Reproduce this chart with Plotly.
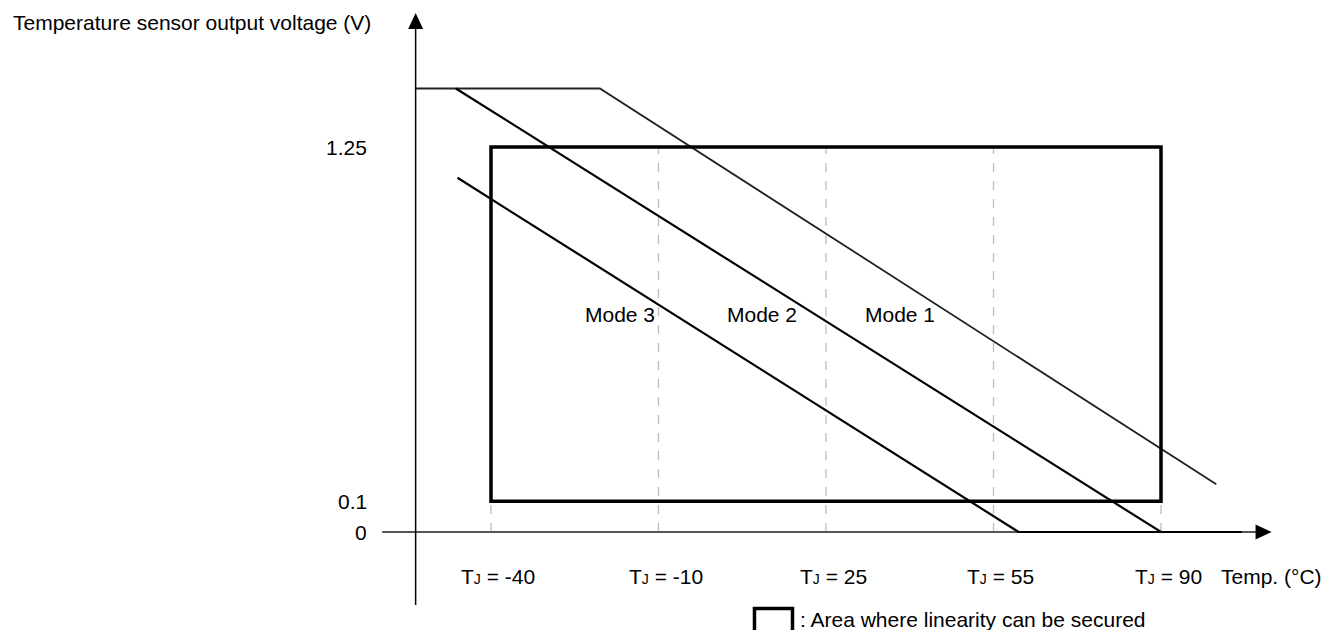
"""Temperature sensor output voltage vs junction temperature (schematic)."""
import plotly.graph_objects as go

# ---- data (x in tick-index units: 0 = first T_J tick, 1 = next, ...) ----
tj_labels = ["-40", "-10", "25", "55", "90"]
tj_pos = [0, 1, 2, 3, 4]

y_tick_labels = ["1.25", "0.1", "0"]
y_tick_vals = [1.25, 0.1, 0.0]

mode_names = ["Mode 1", "Mode 2", "Mode 3"]
mode1_x = [-0.45, 0.65, 4.33]
mode1_y = [1.44, 1.44, 0.155]
mode2_x = [-0.21, 4.0, 4.48]
mode2_y = [1.44, 0.0, 0.0]
mode3_x = [-0.20, 3.15, 4.48]
mode3_y = [1.15, 0.0, 0.0]
mode_label_x = [2.44, 1.62, 0.77]
mode_label_y = [0.705, 0.705, 0.705]

# linearity area
lin_x = [0, 4]
lin_y = [0.1, 1.25]

# axes extents
yaxis_u = -0.45
yaxis_v = [-0.237, 1.685]
xaxis_u = [-0.65, 4.66]

W, H = 1323, 630
UX, UY = 167.5, 308.0      # px per x unit / per volt
ORIGIN = (491, 532)        # px of (x=0, v=0)
X_RANGE = [-ORIGIN[0] / UX, (W - ORIGIN[0]) / UX]
Y_RANGE = [-(H - ORIGIN[1]) / UY, ORIGIN[1] / UY]

FONT = "Liberation Sans, Arial, sans-serif"
FS = 21

fig = go.Figure()

# dashed verticals at the T_J ticks
for p in tj_pos:
    fig.add_shape(type="line", x0=p, x1=p, y0=0, y1=lin_y[1],
                  line=dict(color="#bdbdbd", width=1.3, dash="dash"), layer="below")

# x axis and y axis lines
fig.add_trace(go.Scatter(x=[xaxis_u[0], xaxis_u[1] - 10 / UX], y=[0, 0], mode="lines",
                         line=dict(color="#555555", width=2), hoverinfo="skip"))
fig.add_trace(go.Scatter(x=[yaxis_u, yaxis_u], y=[yaxis_v[0], yaxis_v[1] - 10 / UY], mode="lines",
                         line=dict(color="black", width=1.5), hoverinfo="skip"))

# arrow heads (filled triangles, 16px long, 15px wide)
hl, hw = 16, 7.5
tip = xaxis_u[1]
fig.add_trace(go.Scatter(x=[tip, tip - hl / UX, tip - hl / UX, tip],
                         y=[0, hw / UY, -hw / UY, 0], mode="lines", fill="toself",
                         fillcolor="black", line=dict(color="black", width=0), hoverinfo="skip"))
tip = yaxis_v[1]
fig.add_trace(go.Scatter(x=[yaxis_u, yaxis_u - hw / UX, yaxis_u + hw / UX, yaxis_u],
                         y=[tip, tip - hl / UY, tip - hl / UY, tip], mode="lines", fill="toself",
                         fillcolor="black", line=dict(color="black", width=0), hoverinfo="skip"))

# linearity rectangle
fig.add_shape(type="rect", x0=lin_x[0], x1=lin_x[1], y0=lin_y[0], y1=lin_y[1],
              line=dict(color="black", width=3.5))

# mode lines
fig.add_trace(go.Scatter(x=mode1_x, y=mode1_y, mode="lines",
                         line=dict(color="#222222", width=1.8), name=mode_names[0]))
fig.add_trace(go.Scatter(x=mode2_x, y=mode2_y, mode="lines",
                         line=dict(color="black", width=2.2), name=mode_names[1]))
fig.add_trace(go.Scatter(x=mode3_x, y=mode3_y, mode="lines",
                         line=dict(color="black", width=2.2), name=mode_names[2]))

# mode labels
for name, x, y in zip(mode_names, mode_label_x, mode_label_y):
    fig.add_annotation(x=x, y=y, text=name, showarrow=False,
                       font=dict(size=FS, color="black", family=FONT))

# x tick labels
for lab, p in zip(tj_labels, tj_pos):
    fig.add_annotation(x=p, y=-0.146, text=f"T<span style='font-size:14px'>J</span> = {lab}",
                       showarrow=False, xshift=7,
                       font=dict(size=FS, color="black", family=FONT))
fig.add_annotation(x=4.345, y=-0.146, text="Temp. (°C)", showarrow=False, xanchor="left",
                   font=dict(size=FS, color="black", family=FONT))

# y tick labels
for lab, v in zip(y_tick_labels, y_tick_vals):
    fig.add_annotation(x=-0.73, y=v, text=lab, showarrow=False, xanchor="right",
                       font=dict(size=FS, color="black", family=FONT))

# y title
fig.add_annotation(xref="paper", yref="paper", x=11 / W, y=1 - 23 / H,
                   text="Temperature sensor output voltage (V)", showarrow=False,
                   xanchor="left", yanchor="middle",
                   font=dict(size=FS, color="black", family=FONT))

# legend box + text
fig.add_shape(type="rect", x0=1.573, x1=1.80, y0=-0.248, y1=-0.40,
              line=dict(color="black", width=3.5))
fig.add_annotation(x=1.83, y=-0.283, text=": Area where linearity can be secured",
                   showarrow=False, xanchor="left",
                   font=dict(size=FS, color="black", family=FONT))

fig.update_xaxes(range=X_RANGE, visible=False)
fig.update_yaxes(range=Y_RANGE, visible=False)
fig.update_layout(width=W, height=H, margin=dict(l=0, r=0, t=0, b=0),
                  plot_bgcolor="white", paper_bgcolor="white", showlegend=False)

# drop the default 8px page margin so the figure fills the window
fig.write_html("out.html", config={"displayModeBar": False},
               post_script="document.body.style.margin='0';")
